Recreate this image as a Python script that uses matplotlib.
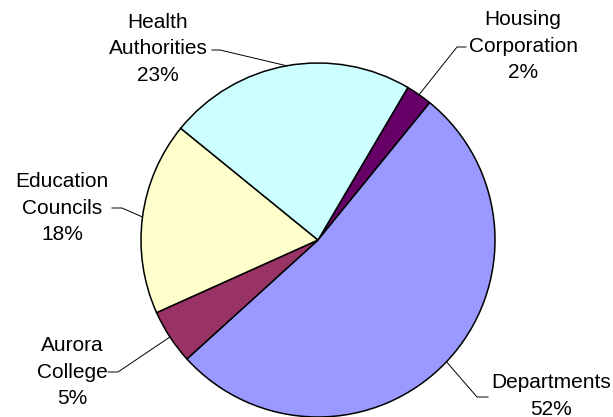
import numpy as np
import matplotlib.pyplot as plt

plt.rcParams['font.family'] = ['Liberation Sans', 'DejaVu Sans']

# slices, clockwise from the Housing Corporation wedge
labels = ["Housing\nCorporation", "Departments", "Aurora\nCollege",
          "Education\nCouncils", "Health\nAuthorities"]
shares = [2.4, 52.4, 5.0, 17.6, 22.6]
colors = ["#660066", "#9999FF", "#993366", "#FFFFCC", "#CCFFFF"]

# layout in pixels (from top-left): pie centre, radius, label blocks, elbows
W, H = 613, 417
cx, cy, R = 318, 240, 177
text_px = [(523, 46), (551, 396), (72, 372), (62, 208), (158, 49)]
elbow_px = [[(457, 47), (466, 47)], [(477, 397), (488, 397)],
            [(118, 372), (108, 372)], [(122, 208), (112, 208)],
            [(220, 50), (212, 50)]]


def px(p):
    return ((p[0] - cx) / R, (cy - p[1]) / R)


fig = plt.figure(figsize=(W / 100, H / 100), dpi=100)
ax = fig.add_axes([0, 0, 1, 1])

start = 90 - 30.5
wedges, _ = ax.pie(shares, colors=colors, startangle=start, counterclock=False,
                   radius=1, wedgeprops=dict(edgecolor='black', linewidth=1.1))
for w in wedges:
    w.set_clip_on(False)

ax.set_xlim(-cx / R, (W - cx) / R)
ax.set_ylim(-(H - cy) / R, cy / R)
ax.set_aspect('equal')
ax.axis('off')

tot = sum(shares)
acc = 0
for lab, s, tp, el in zip(labels, shares, text_px, elbow_px):
    mid = np.deg2rad(start - (acc + s / 2) / tot * 360)
    acc += s
    anchor = (np.cos(mid), np.sin(mid))
    pts = [anchor] + [px(p) for p in el]
    xs, ys = zip(*pts)
    ax.plot(xs, ys, color='black', lw=0.7, clip_on=False)
    tx, ty = px(tp)
    ax.text(tx, ty, "%s\n%d%%" % (lab, round(s)), ha='center', va='center',
            multialignment='center', fontsize=15, linespacing=1.47)

fig.savefig("out.png", dpi=100)
